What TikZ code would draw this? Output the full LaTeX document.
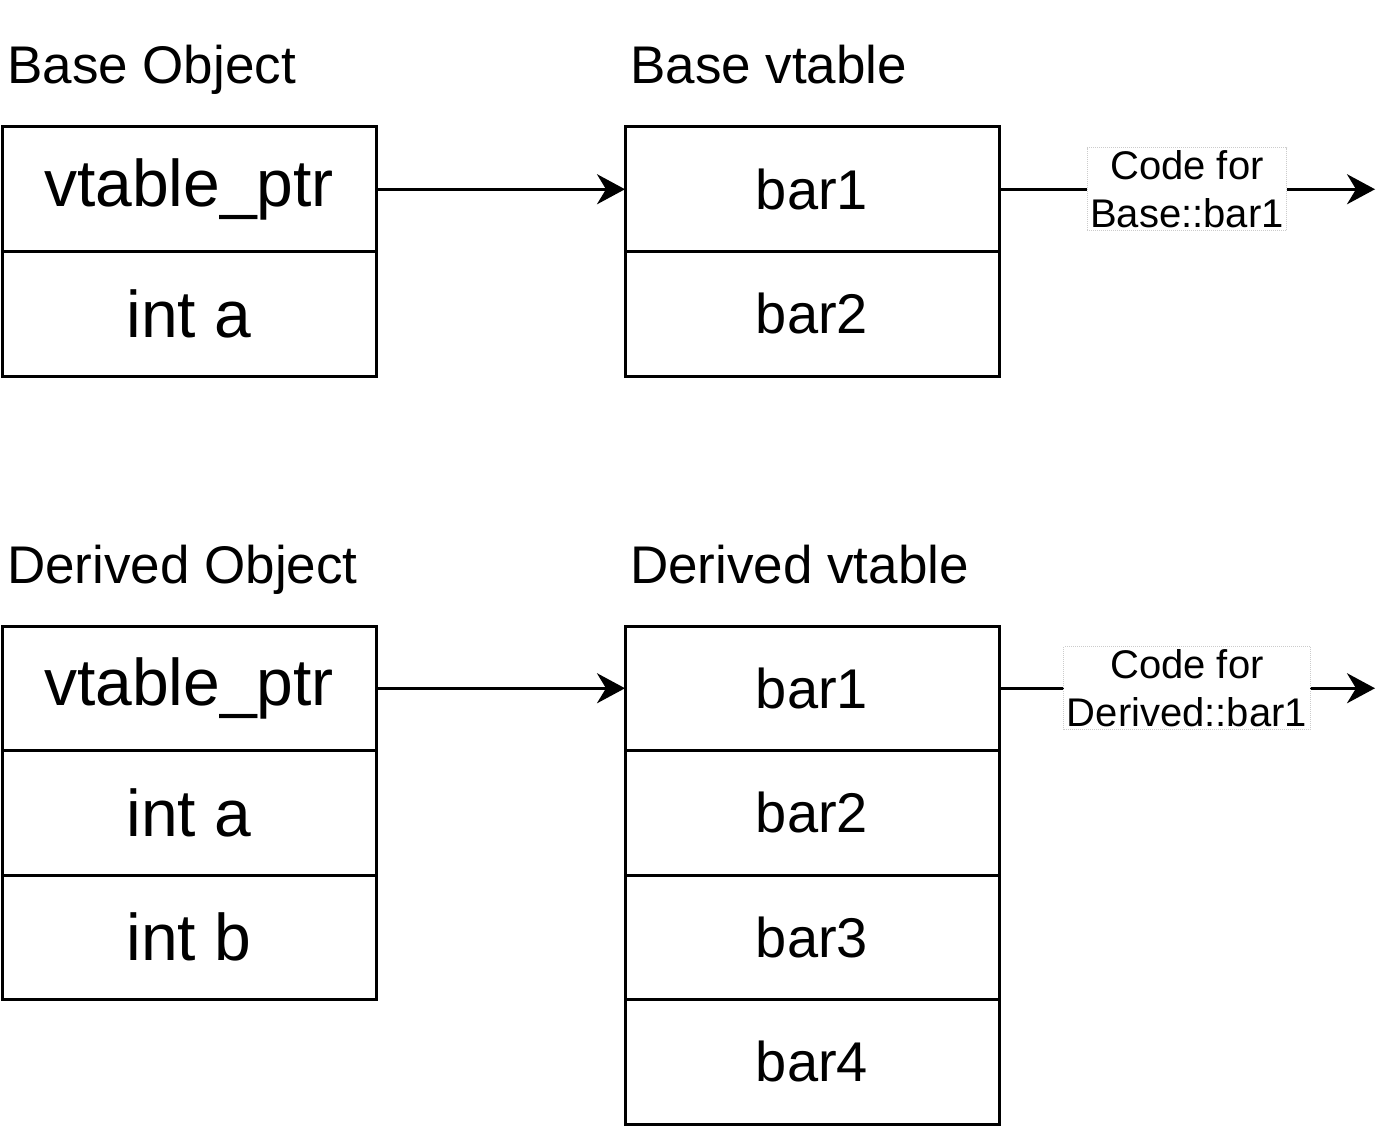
\documentclass[tikz,border=0pt]{standalone}
\usepackage{fontspec}
\setmainfont{Liberation Sans}
\usetikzlibrary{arrows.meta,calc}
\begin{document}
\begin{tikzpicture}[x=1pt,y=-1pt,
  cell/.style={draw=black,line width=3pt,minimum width=374pt,minimum height=124.5pt,inner sep=0pt,outer sep=0pt,anchor=north west,fill=white},
  big/.style={font=\fontsize{66}{79}\selectfont},
  mid/.style={font=\fontsize{56}{67}\selectfont},
  title/.style={font=\fontsize{53}{63}\selectfont,anchor=base west,inner sep=0pt},
  conn/.style={line width=3pt,-{Stealth[length=28pt,width=30pt,inset=9pt]}},
  lbl/.style={font=\fontsize{40}{48}\selectfont,align=center,fill=white,draw=black!20,densely dotted,line width=1pt,inner sep=3pt}
]
\useasboundingbox (0,0) rectangle (1400,1126);

% titles
\node[title] (t1) at (7,84) {Base Object};
\node[title] (t2) at (630,84) {Base vtable};
\node[title] (t3) at (7,583) {Derived Object};
\node[title] (t4) at (630,583) {Derived vtable};

% Base object
\node[cell,big] (bo1) at (2,127) {vtable\_ptr};
\node[cell,big] (bo2) at (2,251.5) {int a};

% Base vtable
\node[cell,mid] (bv1) at (625,127) {bar1};
\node[cell,mid] (bv2) at (625,251.5) {bar2};

% Derived object
\node[cell,big] (do1) at (2,626) {vtable\_ptr};
\node[cell,big] (do2) at (2,750.5) {int a};
\node[cell,big] (do3) at (2,875) {int b};

% Derived vtable
\node[cell,mid] (dv1) at (625,626) {bar1};
\node[cell,mid] (dv2) at (625,750.5) {bar2};
\node[cell,mid] (dv3) at (625,875) {bar3};
\node[cell,mid] (dv4) at (625,999.5) {bar4};

% connectors
\draw[conn] (bo1.east) -- (bv1.west);
\draw[conn] (do1.east) -- (dv1.west);

\coordinate (e1) at ($(bv1.east)+(376,0)$);
\coordinate (e2) at ($(dv1.east)+(376,0)$);
\draw[conn] (bv1.east) -- node[lbl] {Code for\\Base::bar1} (e1);
\draw[conn] (dv1.east) -- node[lbl] {Code for\\Derived::bar1} (e2);
\end{tikzpicture}
\end{document}
